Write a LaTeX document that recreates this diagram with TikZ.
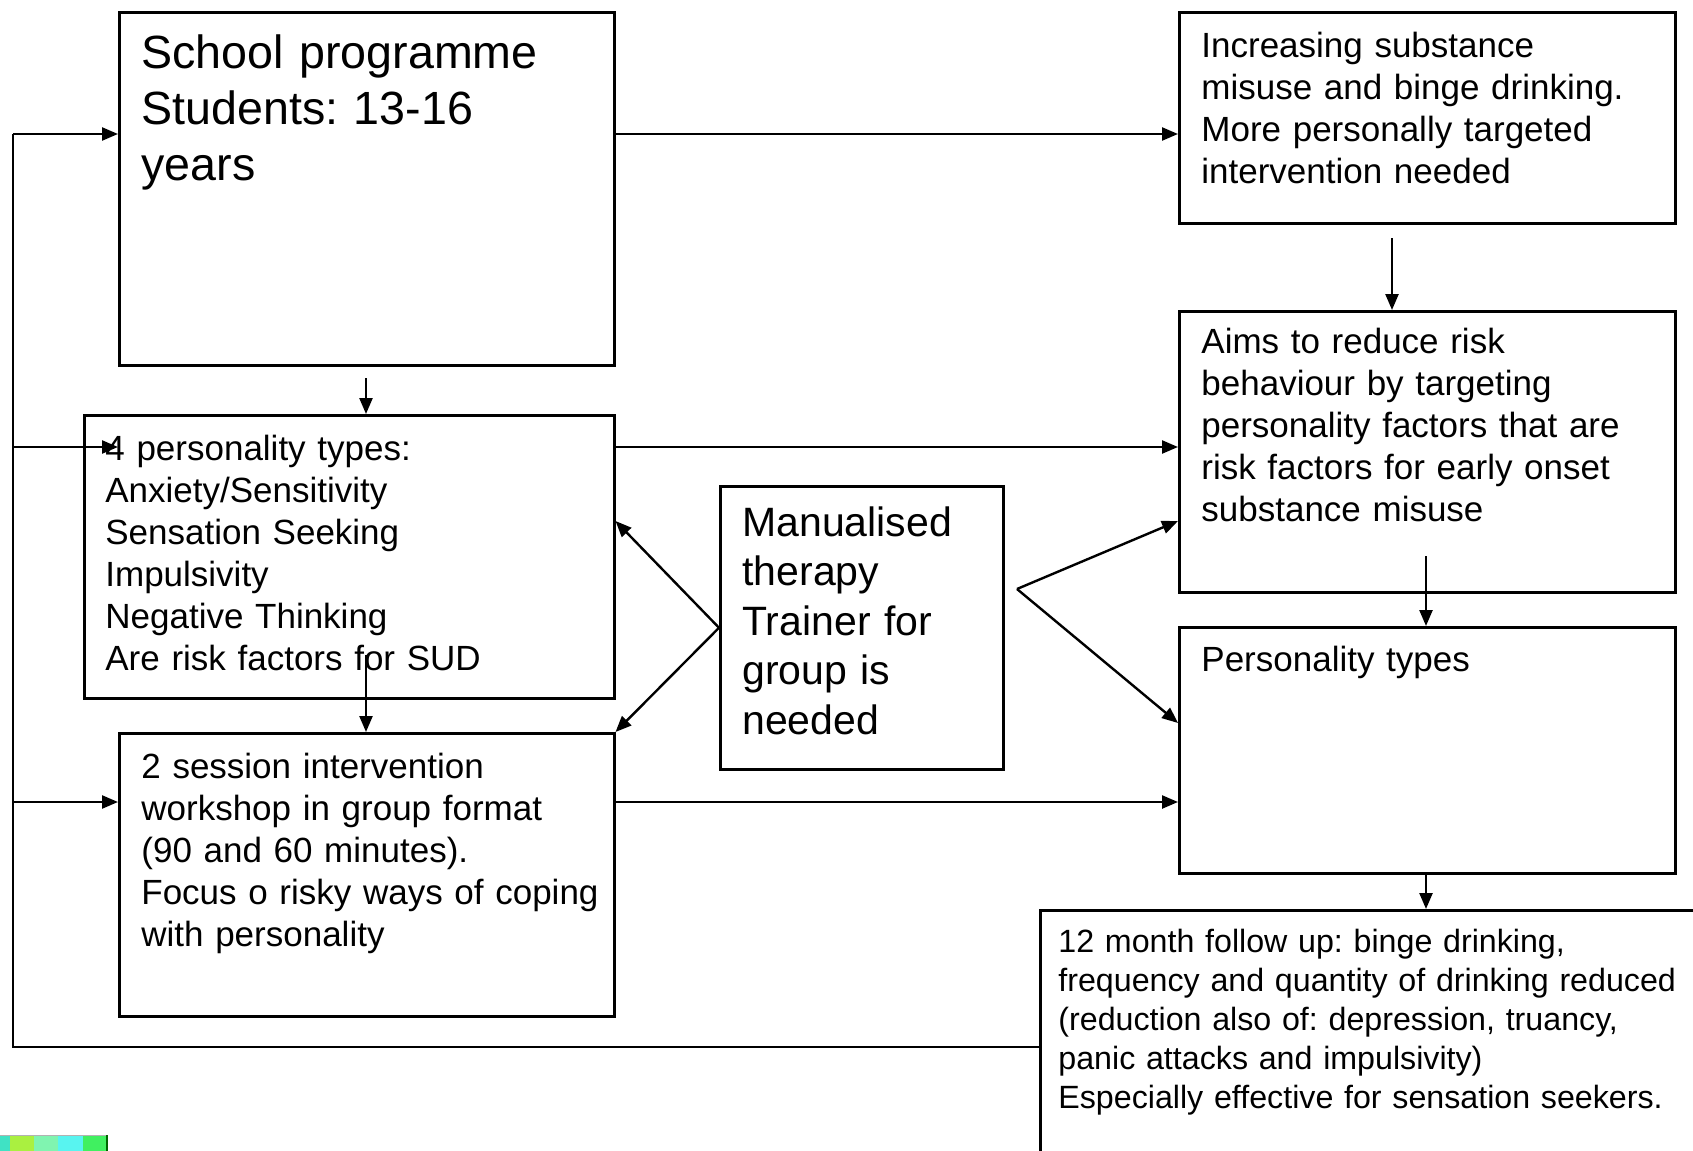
\documentclass[tikz,border=0pt]{standalone}
\usepackage{fontspec}
\setmainfont{Liberation Sans}
\usetikzlibrary{arrows.meta}
\frenchspacing

\tikzset{
  box/.style={draw, line width=1.25pt, inner sep=0pt, anchor=north west},
  txt/.style={anchor=base west, inner sep=0pt, align=left},
  big/.style={txt, text width=230pt, font=\fontsize{23.3}{28}\selectfont},
  mid/.style={txt, text width=245pt, font=\fontsize{17.5}{21}\selectfont},
  man/.style={txt, text width=130pt, font=\fontsize{20.5}{24.7}\selectfont},
  sml/.style={txt, text width=325pt, font=\fontsize{16.1}{19.45}\selectfont},
  link/.style={line width=1.2pt},
  arr/.style={line width=1.2pt, -{Triangle[length=8pt,width=6.5pt]}},
}

\begin{document}
\begin{tikzpicture}[x=0.5pt, y=-0.5pt]
\useasboundingbox (0,0) rectangle (1693,1151);

% boxes
\node[box, minimum width=247.5pt, minimum height=176.5pt] (school) at (118,11) {};
\node[box, minimum width=248pt,   minimum height=105.5pt] (incr)   at (1178,11) {};
\node[box, minimum width=248pt,   minimum height=140.5pt] (aims)   at (1178,310) {};
\node[box, minimum width=265pt,   minimum height=141.5pt] (four)   at (83,414) {};
\node[box, minimum width=141.5pt, minimum height=141.5pt] (manual) at (719,485) {};
\node[box, minimum width=247.5pt, minimum height=141.5pt] (two)    at (118,732) {};
\node[box, minimum width=248pt,   minimum height=123pt]   (ptypes) at (1178,626) {};
\node[box, minimum width=340pt,   minimum height=130pt]   (follow) at (1039,909) {};

% box texts
\node[big] (schooltxt) at (141,68.5) {School programme\\Students: 13-16\\years};
\node[mid] (incrtxt) at (1201,57) {Increasing substance\\misuse and binge drinking.\\More personally targeted\\intervention needed};
\node[mid] (aimstxt) at (1201,353.5) {Aims to reduce risk\\behaviour by targeting\\personality factors that are\\risk factors for early onset\\substance misuse};
\node[mid] (fourtxt) at (105,460.5) {4 personality types:\\Anxiety/Sensitivity\\Sensation Seeking\\Impulsivity\\Negative Thinking\\Are risk factors for SUD};
\node[man] (manualtxt) at (742,536.5) {Manualised\\therapy\\Trainer for\\group is\\needed};
\node[mid] (twotxt) at (141,778.5) {2 session intervention\\workshop in group format\\(90 and 60 minutes).\\Focus o risky ways of coping\\with personality};
\node[mid] (ptypestxt) at (1201,671.5) {Personality types};
\node[sml] (followtxt) at (1058,952.5) {12 month follow up: binge drinking,\\frequency and quantity of drinking reduced\\(reduction also of: depression, truancy,\\panic attacks and impulsivity)\\Especially effective for sensation seekers.};

% reference heights and free ends of the connectors
\coordinate (l1) at (13,134);
\coordinate (l2) at (13,447);
\coordinate (l3) at (13,802);
\coordinate (l4) at (13,1047);
\coordinate (d1) at (1392,238);
\coordinate (d2) at (366,378);
\coordinate (d3) at (366,655);
\coordinate (d4) at (1426,556);
\coordinate (t1) at (0,521);
\coordinate (t2) at (0,723);
\coordinate (fork) at (1017,589);

% feedback loop on the left
\draw[link] (follow.west |- l4) -- (l4) -- (l1);
\draw[arr] (l1) -- (school.west |- l1);
\draw[arr] (l2) -- (school.west |- l2);
\draw[arr] (l3) -- (two.west |- l3);

% horizontal flows
\draw[arr] (school.east |- l1) -- (incr.west |- l1);
\draw[arr] (four.east |- l2) -- (aims.west |- l2);
\draw[arr] (two.east |- l3) -- (ptypes.west |- l3);

% vertical flows
\draw[arr] (d1) -- (d1 |- aims.north);
\draw[arr] (d2) -- (d2 |- four.north);
\draw[arr] (d3) -- (d3 |- two.north);
\draw[arr] (d4) -- (d4 |- ptypes.north);
\draw[arr] (ptypes.south -| d4) -- (d4 |- follow.north);

% therapy links
\draw[arr] (manual.west) -- (four.east |- t1);
\draw[arr] (manual.west) -- (two.north east);
\draw[arr] (fork) -- (aims.west |- t1);
\draw[arr] (fork) -- (ptypes.west |- t2);

% colour strip in the lower left corner
\fill[fill={rgb,255:red,64;green,226;blue,196}] (0,1135) rectangle (10,1151);
\fill[fill={rgb,255:red,170;green,240;blue,64}] (10,1135) rectangle (34,1151);
\fill[fill={rgb,255:red,128;green,244;blue,176}] (34,1135) rectangle (58,1151);
\fill[fill={rgb,255:red,88;green,244;blue,240}] (58,1135) rectangle (83,1151);
\fill[fill={rgb,255:red,64;green,240;blue,96}] (83,1135) rectangle (107,1151);
\draw[line width=0.5pt, gray!60] (0,1135) -- (107,1135);
\draw[line width=0.8pt, green!40!black] (107,1135) -- (107,1151);
\end{tikzpicture}
\end{document}
